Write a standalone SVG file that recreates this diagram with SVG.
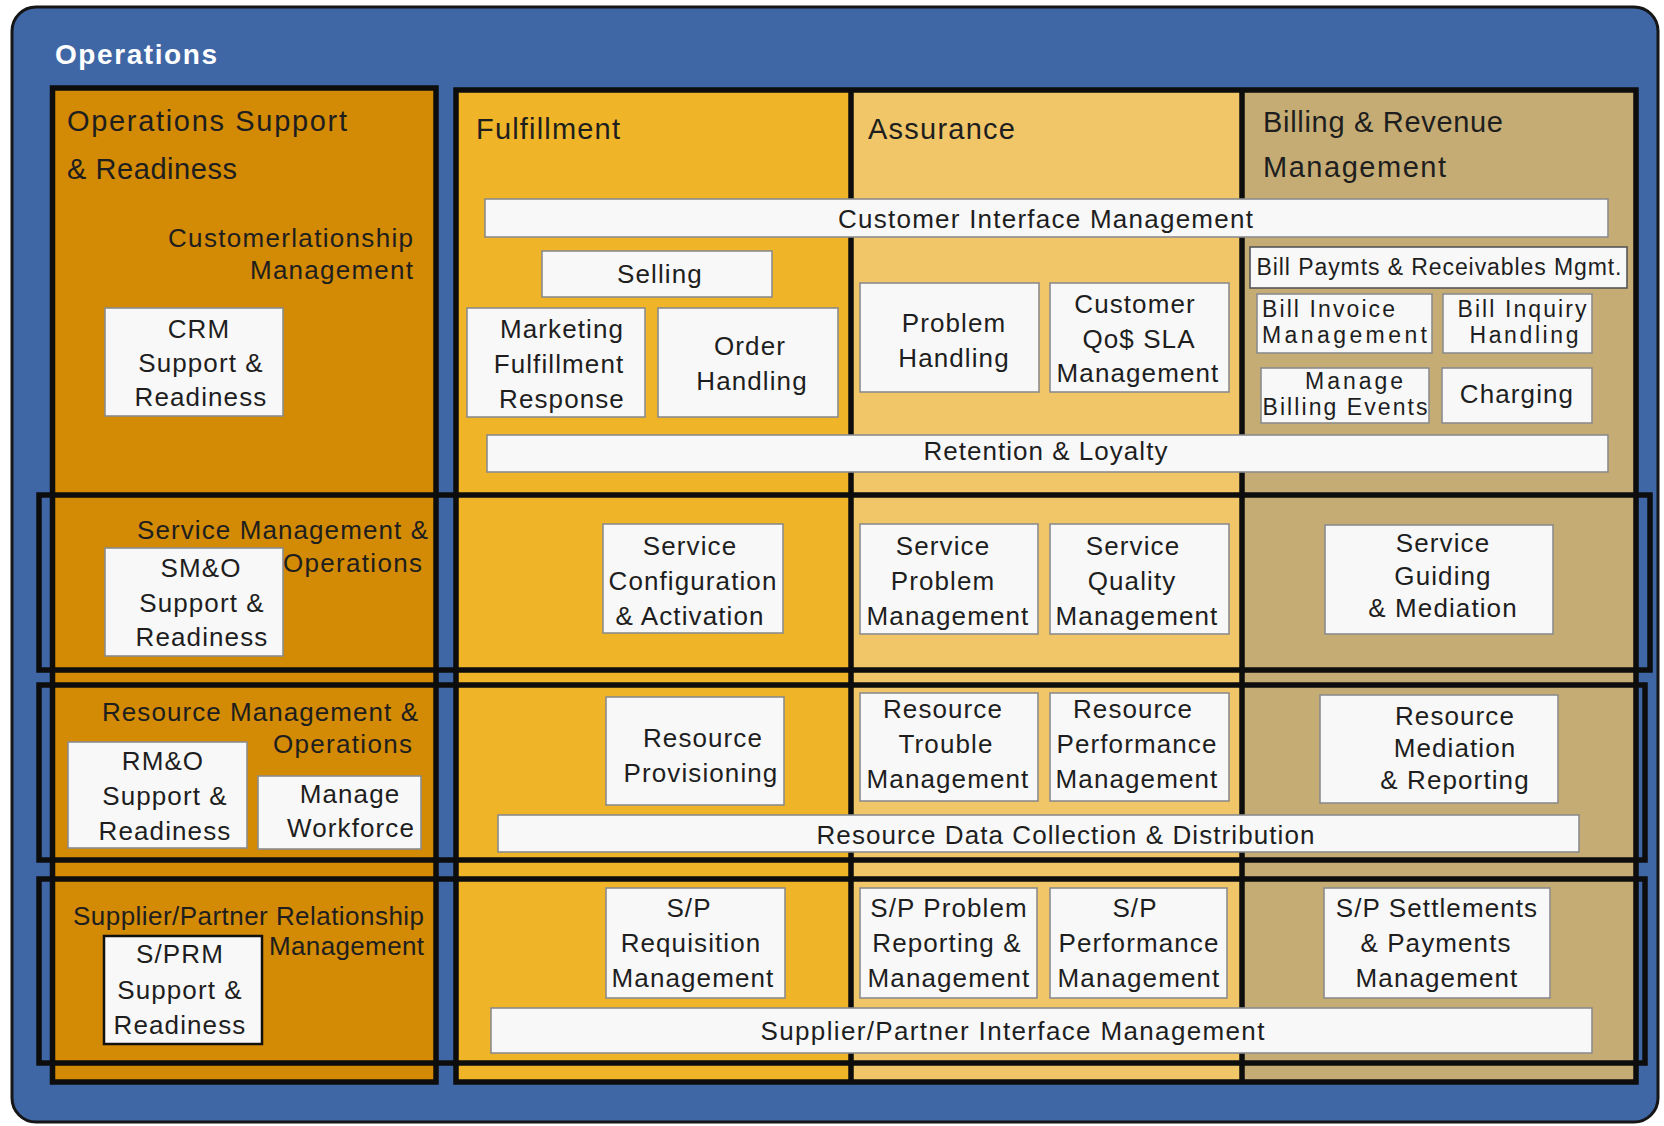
<svg xmlns="http://www.w3.org/2000/svg" width="1664" height="1126" viewBox="0 0 1664 1126">
<style>
text{font-family:"Liberation Sans",Arial,sans-serif;fill:#1e1e1e}
.t{font-size:26px;letter-spacing:1.1px;text-anchor:middle}
.c{font-size:23px;text-anchor:middle}
.s{font-size:23px}
.h{font-size:29px}
.r{font-size:26px;text-anchor:end}
.box{fill:#f8f8f8;stroke:#8c8c8c;stroke-width:1.6}
.band{fill:none;stroke:#0d0d0d;stroke-width:5.5}
.col{stroke:#0d0d0d;stroke-width:5.5}
</style>
<g id="background">
<rect x="12" y="7" width="1646" height="1115" rx="24" fill="#3F67A6" stroke="#161616" stroke-width="3"/>
<text x="55" y="64" style="font-size:28px;font-weight:bold;fill:#ffffff" textLength="162" lengthAdjust="spacing">Operations</text>
</g>
<g id="columns">
<rect x="52.5" y="88" width="383.5" height="994" fill="#D38A04" class="col"/>
<rect x="456" y="90" width="395" height="992" fill="#EFB428"/>
<rect x="851" y="90" width="391" height="992" fill="#F1C669"/>
<rect x="1242" y="90" width="394" height="992" fill="#C5AC74"/>
<rect x="456" y="90" width="1180" height="992" fill="none" class="col"/>
<line x1="851" y1="90" x2="851" y2="1082" class="col"/>
<line x1="1242" y1="90" x2="1242" y2="1082" class="col"/>
</g>
<g id="bands">
<rect x="39" y="495" width="1611" height="175" class="band"/>
<rect x="39" y="685" width="1606" height="175" class="band"/>
<rect x="39" y="879" width="1606" height="184" class="band"/>
</g>
<g id="connectors"/>
<g id="osr-header">
<text class="h" x="67" y="131" textLength="280" lengthAdjust="spacing">Operations Support</text>
<text class="h" x="67" y="179" textLength="170" lengthAdjust="spacing">&amp; Readiness</text>
</g>
<g id="crm-label">
<text class="r" x="413" y="247" textLength="245" lengthAdjust="spacing">Customerlationship</text>
<text class="r" x="413" y="279" textLength="163" lengthAdjust="spacing">Management</text>
</g>
<g id="crm-support">
<rect class="box" x="105" y="308" width="178" height="108"/>
<text class="t"><tspan x="199" y="338">CRM</tspan><tspan x="201" y="372">Support &amp;</tspan><tspan x="201" y="406">Readiness</tspan></text>
</g>
<g id="smo-label">
<text class="r" x="428" y="539" textLength="291" lengthAdjust="spacing">Service Management &amp;</text>
<text class="r" x="422" y="572" textLength="139" lengthAdjust="spacing">Operations</text>
</g>
<g id="smo-support">
<rect class="box" x="105" y="548" width="178" height="108"/>
<text class="t"><tspan x="201" y="577">SM&amp;O</tspan><tspan x="202" y="612">Support &amp;</tspan><tspan x="202" y="646">Readiness</tspan></text>
</g>
<g id="rmo-label">
<text class="r" x="418" y="721" textLength="316" lengthAdjust="spacing">Resource Management &amp;</text>
<text class="r" x="412" y="753" textLength="139" lengthAdjust="spacing">Operations</text>
</g>
<g id="rmo-support">
<rect class="box" x="68" y="742" width="179" height="106"/>
<text class="t"><tspan x="163" y="770">RM&amp;O</tspan><tspan x="165" y="805">Support &amp;</tspan><tspan x="165" y="840">Readiness</tspan></text>
</g>
<g id="manage-workforce">
<rect class="box" x="258" y="776" width="163" height="73"/>
<text class="t"><tspan x="350" y="803">Manage</tspan><tspan x="351" y="837">Workforce</tspan></text>
</g>
<g id="sprm-label">
<text class="r" x="424" y="925" textLength="351" lengthAdjust="spacing">Supplier/Partner Relationship</text>
<text class="r" x="424" y="955" textLength="155" lengthAdjust="spacing">Management</text>
</g>
<g id="sprm-support">
<rect x="104" y="936" width="158" height="108" fill="#f8f8f8" stroke="#111" stroke-width="2.5"/>
<text class="t"><tspan x="180" y="963">S/PRM</tspan><tspan x="180" y="999">Support &amp;</tspan><tspan x="180" y="1034">Readiness</tspan></text>
</g>
<g id="fulfillment-header">
<text class="h" x="476" y="139" textLength="144" lengthAdjust="spacing">Fulfillment</text>
</g>
<g id="assurance-header">
<text class="h" x="868" y="139" textLength="147" lengthAdjust="spacing">Assurance</text>
</g>
<g id="billing-header">
<text class="h" x="1263" y="132" textLength="240" lengthAdjust="spacing">Billing &amp; Revenue</text>
<text class="h" x="1263" y="177" textLength="183" lengthAdjust="spacing">Management</text>
</g>
<g id="customer-interface-mgmt">
<rect class="box" x="485" y="199" width="1123" height="38"/>
<text class="t" x="1046" y="228" textLength="416" lengthAdjust="spacing">Customer Interface Management</text>
</g>
<g id="selling">
<rect class="box" x="542" y="251" width="230" height="46"/>
<text class="t" x="660" y="283">Selling</text>
</g>
<g id="marketing-fulfillment">
<rect class="box" x="467" y="308" width="178" height="109"/>
<text class="t"><tspan x="562" y="338">Marketing</tspan><tspan x="559" y="373">Fulfillment</tspan><tspan x="562" y="408">Response</tspan></text>
</g>
<g id="order-handling">
<rect class="box" x="658" y="308" width="180" height="109"/>
<text class="t"><tspan x="750" y="355">Order</tspan><tspan x="752" y="390">Handling</tspan></text>
</g>
<g id="problem-handling">
<rect class="box" x="860" y="283" width="179" height="109"/>
<text class="t"><tspan x="954" y="332">Problem</tspan><tspan x="954" y="367">Handling</tspan></text>
</g>
<g id="customer-qos">
<rect class="box" x="1050" y="283" width="179" height="109"/>
<text class="t"><tspan x="1135" y="313">Customer</tspan><tspan x="1139" y="348">Qo$ SLA</tspan><tspan x="1138" y="382">Management</tspan></text>
</g>
<g id="bill-payments">
<rect x="1250" y="247" width="377" height="41" fill="#f8f8f8" stroke="#555" stroke-width="1.6"/>
<text x="1439" y="275" style="font-size:23px;text-anchor:middle" textLength="365" lengthAdjust="spacing">Bill Paymts &amp; Receivables Mgmt.</text>
</g>
<g id="bill-invoice">
<rect class="box" x="1257" y="294" width="175" height="59"/>
<text class="s"><tspan x="1262" y="317" textLength="133" lengthAdjust="spacing">Bill Invoice</tspan><tspan x="1262" y="343" textLength="165" lengthAdjust="spacing">Management</tspan></text>
</g>
<g id="bill-inquiry">
<rect class="box" x="1443" y="294" width="149" height="59"/>
<text class="c"><tspan x="1522" y="317" textLength="129" lengthAdjust="spacing">Bill Inquiry</tspan><tspan x="1524" y="343" textLength="109" lengthAdjust="spacing">Handling</tspan></text>
</g>
<g id="manage-billing-events">
<rect class="box" x="1261" y="368" width="168" height="55"/>
<text class="c"><tspan x="1354" y="389" textLength="98" lengthAdjust="spacing">Manage</tspan><tspan x="1345" y="415" textLength="165" lengthAdjust="spacing">Billing Events</tspan></text>
</g>
<g id="charging">
<rect class="box" x="1442" y="368" width="150" height="55"/>
<text class="t" x="1517" y="403">Charging</text>
</g>
<g id="retention-loyalty">
<rect class="box" x="487" y="435" width="1121" height="37"/>
<text class="t" x="1046" y="460" textLength="245" lengthAdjust="spacing">Retention &amp; Loyalty</text>
</g>
<g id="service-config">
<rect class="box" x="603" y="524" width="180" height="109"/>
<text class="t"><tspan x="690" y="555">Service</tspan><tspan x="693" y="590">Configuration</tspan><tspan x="690" y="625">&amp; Activation</tspan></text>
</g>
<g id="service-problem">
<rect class="box" x="860" y="524" width="178" height="110"/>
<text class="t"><tspan x="943" y="555">Service</tspan><tspan x="943" y="590">Problem</tspan><tspan x="948" y="625">Management</tspan></text>
</g>
<g id="service-quality">
<rect class="box" x="1050" y="524" width="179" height="110"/>
<text class="t"><tspan x="1133" y="555">Service</tspan><tspan x="1132" y="590">Quality</tspan><tspan x="1137" y="625">Management</tspan></text>
</g>
<g id="service-guiding">
<rect class="box" x="1325" y="525" width="228" height="109"/>
<text class="t"><tspan x="1443" y="552">Service</tspan><tspan x="1443" y="585">Guiding</tspan><tspan x="1443" y="617">&amp; Mediation</tspan></text>
</g>
<g id="resource-provisioning">
<rect class="box" x="606" y="697" width="178" height="108"/>
<text class="t"><tspan x="703" y="747">Resource</tspan><tspan x="701" y="782">Provisioning</tspan></text>
</g>
<g id="resource-trouble">
<rect class="box" x="860" y="693" width="178" height="108"/>
<text class="t"><tspan x="943" y="718">Resource</tspan><tspan x="946" y="753">Trouble</tspan><tspan x="948" y="788">Management</tspan></text>
</g>
<g id="resource-performance">
<rect class="box" x="1050" y="693" width="179" height="108"/>
<text class="t"><tspan x="1133" y="718">Resource</tspan><tspan x="1137" y="753">Performance</tspan><tspan x="1137" y="788">Management</tspan></text>
</g>
<g id="resource-mediation">
<rect class="box" x="1320" y="695" width="238" height="108"/>
<text class="t"><tspan x="1455" y="725">Resource</tspan><tspan x="1455" y="757">Mediation</tspan><tspan x="1455" y="789">&amp; Reporting</tspan></text>
</g>
<g id="resource-data-collection">
<rect class="box" x="498" y="815" width="1081" height="37"/>
<text class="t" x="1066" y="844" textLength="499" lengthAdjust="spacing">Resource Data Collection &amp; Distribution</text>
</g>
<g id="sp-requisition">
<rect class="box" x="606" y="888" width="179" height="110"/>
<text class="t"><tspan x="689" y="917">S/P</tspan><tspan x="691" y="952">Requisition</tspan><tspan x="693" y="987">Management</tspan></text>
</g>
<g id="sp-problem">
<rect class="box" x="860" y="888" width="177" height="110"/>
<text class="t"><tspan x="949" y="917">S/P Problem</tspan><tspan x="947" y="952">Reporting &amp;</tspan><tspan x="949" y="987">Management</tspan></text>
</g>
<g id="sp-performance">
<rect class="box" x="1050" y="888" width="177" height="110"/>
<text class="t"><tspan x="1135" y="917">S/P</tspan><tspan x="1139" y="952">Performance</tspan><tspan x="1139" y="987">Management</tspan></text>
</g>
<g id="sp-settlements">
<rect class="box" x="1324" y="888" width="226" height="110"/>
<text class="t"><tspan x="1437" y="917">S/P Settlements</tspan><tspan x="1436" y="952">&amp; Payments</tspan><tspan x="1437" y="987">Management</tspan></text>
</g>
<g id="sp-interface-mgmt">
<rect class="box" x="491" y="1008" width="1101" height="45"/>
<text class="t" x="1013" y="1040" textLength="505" lengthAdjust="spacing">Supplier/Partner Interface Management</text>
</g>
</svg>
